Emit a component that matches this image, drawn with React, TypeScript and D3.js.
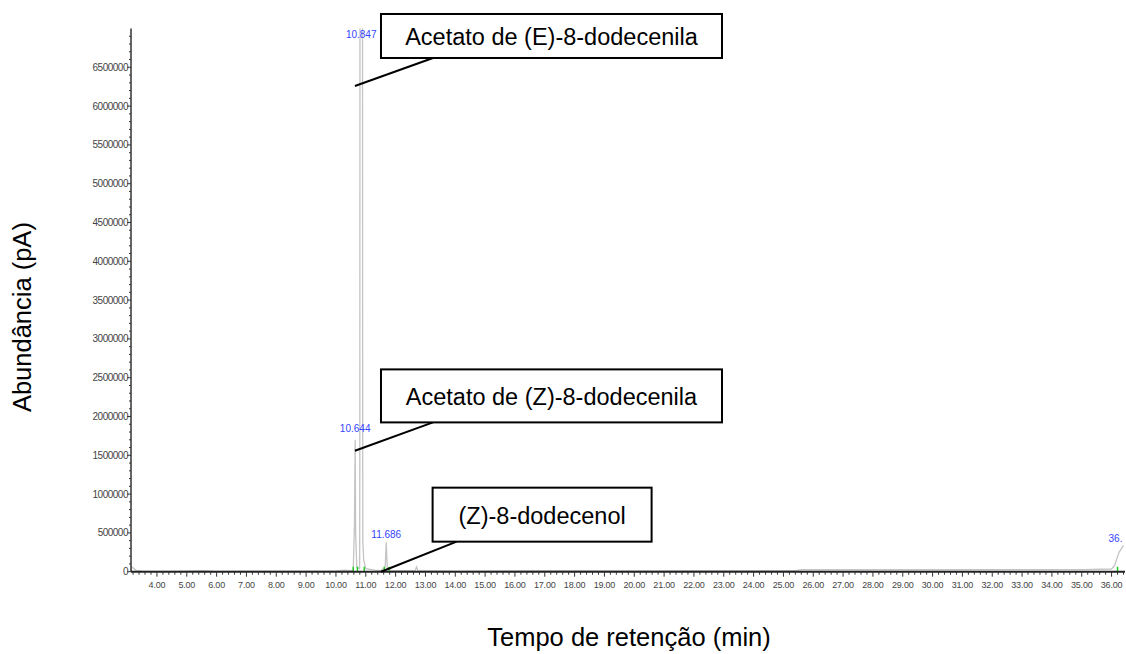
import React from "react";
import * as d3 from "d3";

const traceTimes = [3.13, 3.15, 3.22, 3.3, 3.5, 4.5, 5.6, 6.0, 7.5, 9.0, 10.0, 10.3, 10.5, 10.58, 10.62, 10.644, 10.66, 10.7, 10.78, 10.795, 10.8, 10.805, 10.89, 10.895, 10.9, 10.93, 11.0, 11.3, 11.5, 11.65, 11.686, 11.72, 11.85, 12.65, 12.7, 12.75, 14, 17, 20, 22, 25.4, 25.6, 30, 35, 36.0, 36.1, 36.25, 36.4];
const traceValues = [0, 60000, 45000, 15000, 8000, 5000, 12000, 5000, 8000, 6000, 10000, 20000, 15000, 20000, 600000, 1700000, 500000, 60000, 40000, 50000, 1500000, 7300000, 7300000, 2800000, 400000, 150000, 40000, 20000, 12000, 60000, 380000, 50000, 15000, 12000, 60000, 12000, 8000, 12000, 10000, 12000, 15000, 25000, 25000, 28000, 35000, 80000, 250000, 340000];

const peakLabels = ["10.847", "10.644", "11.686", "36."];
const peakTimes = [10.847, 10.644, 11.686, 36.3];
const peakLabelValues = [6920000, 1840000, 480000, 430000];

const integrationMarks = [10.58, 10.72, 10.95, 11.62, 11.78, 36.2];

const yTicks = d3.range(0, 6500001, 500000);
const xTicks = d3.range(4, 37, 1);

const annotationTexts = ["Acetato de (E)-8-dodecenila", "Acetato de (Z)-8-dodecenila", "(Z)-8-dodecenol"];
const annotationTargetT = [10.636, 10.636, 11.51];
const annotationTargetV = [6259000, 1559000, 0];
const annotationBoxT = [11.51, 11.51, 13.24];
const annotationBoxV = [7187000, 2607000, 1083000];

const W = 1126, H = 654;

export default function App() {
  const x = d3.scaleLinear().domain([3.13, 36.45]).range([131, 1125]);
  const y = d3.scaleLinear().domain([0, 7000000]).range([571.7, 28.5]);
  const pts: [number, number][] = traceTimes.map((t, i) => [t, traceValues[i]]);
  const line = d3.line<[number, number]>().x(d => x(d[0])).y(d => y(d[1]));
  const minorX = d3.range(3.2, 36.45, 0.2).filter(v => Math.abs(v - Math.round(v)) > 0.01);
  const minorY = d3.range(0, 7000001, 100000).filter(v => v % 500000 !== 0);
  const boxW = [341, 341, 219];
  const boxH = [44, 53, 54];
  const font = "'Liberation Sans', Arial, sans-serif";
  return (
    <div style={{ position: "absolute", left: 0, top: 0 }}>
      <svg width={W} height={H} style={{ display: "block", background: "#fff" }}>
        <defs>
          <clipPath id="plot"><rect x={131} y={y(7000000)} width={1126 - 131} height={571.7 - y(7000000) + 2} /></clipPath>
        </defs>
        <path d={line(pts) || ""} fill="none" stroke="#c4c4c4" strokeWidth={1.3} clipPath="url(#plot)" />
        {integrationMarks.map((t, i) => (
          <line key={i} x1={x(t)} x2={x(t)} y1={y(0)} y2={y(0) - 5} stroke="#22cc22" strokeWidth={1.5} />
        ))}
        {/* axes */}
        <line x1={131} x2={131} y1={y(7000000)} y2={y(0)} stroke="#333" strokeWidth={1.5} />
        <line x1={131} x2={1125} y1={y(0)} y2={y(0)} stroke="#222" strokeWidth={2} />
        {minorY.map(v => (
          <line key={v} x1={129} x2={131} y1={y(v)} y2={y(v)} stroke="#333" strokeWidth={1} />
        ))}
        {yTicks.map(v => (
          <g key={v}>
            <line x1={127} x2={131} y1={y(v)} y2={y(v)} stroke="#333" strokeWidth={1} />
            <text x={128} y={y(v)} dy="0.35em" textAnchor="end" fontSize={10} fill="#444" fontFamily={font} letterSpacing={-0.5}>{v}</text>
          </g>
        ))}
        {minorX.map((v, i) => (
          <line key={i} x1={x(v)} x2={x(v)} y1={y(0)} y2={y(0) + 3} stroke="#333" strokeWidth={1} />
        ))}
        {xTicks.map(v => (
          <g key={v}>
            <line x1={x(v)} x2={x(v)} y1={y(0)} y2={y(0) + 5} stroke="#333" strokeWidth={1} />
            <text x={x(v)} y={y(0) + 16} textAnchor="middle" fontSize={9} fill="#444" fontFamily={font} letterSpacing={-0.2}>{v.toFixed(2)}</text>
          </g>
        ))}
        {peakLabels.map((s, i) => (
          <text key={s} x={x(peakTimes[i])} y={y(peakLabelValues[i])} dy="0.35em" textAnchor={i === 3 ? "start" : "middle"} dx={i === 3 ? -12 : 0} fontSize={10} fill="#3344ff" fontFamily={font}>{s}</text>
        ))}
        {annotationTexts.map((s, i) => {
          const bx = x(annotationBoxT[i]);
          const by = y(annotationBoxV[i]);
          const lx = bx + 52 + (i === 2 ? -28 : 0);
          return (
            <g key={s}>
              <line x1={lx} y1={by + boxH[i]} x2={x(annotationTargetT[i])} y2={y(annotationTargetV[i])} stroke="#000" strokeWidth={2} />
              <rect x={bx} y={by} width={boxW[i]} height={boxH[i]} fill="#fff" stroke="#000" strokeWidth={2} />
              <text x={bx + boxW[i] / 2} y={by + boxH[i] / 2 + 1} dy="0.35em" textAnchor="middle" fontSize={23.5} fontFamily={font} fill="#000">{s}</text>
            </g>
          );
        })}
        <text transform={`translate(31,${(y(0) + y(7000000)) / 2 + 17}) rotate(-90)`} textAnchor="middle" fontSize={25.5} fontFamily={font} fill="#000">Abundância (pA)</text>
        <text x={629} y={646} textAnchor="middle" fontSize={25.5} fontFamily={font} fill="#000">Tempo de retenção (min)</text>
      </svg>
    </div>
  );
}
